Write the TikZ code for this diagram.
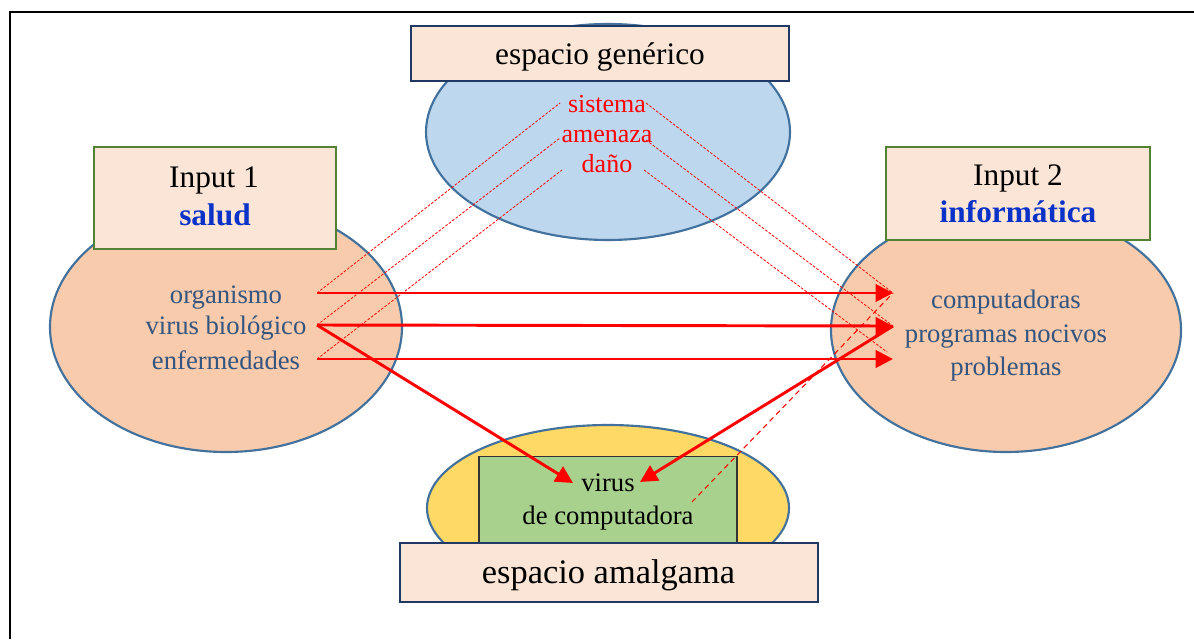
\documentclass[tikz,border=0pt]{standalone}
\usepackage{fontspec}
\setmainfont{Liberation Serif}
\usetikzlibrary{shapes.geometric,arrows.meta}
\definecolor{ellborder}{HTML}{41719C}
\definecolor{navyb}{HTML}{1F3864}
\definecolor{grnb}{HTML}{548235}
\definecolor{boxfill}{HTML}{FBE5D6}
\definecolor{bluefill}{HTML}{BDD7EE}
\definecolor{peach}{HTML}{F8CBAD}
\definecolor{yell}{HTML}{FFD966}
\definecolor{greenfill}{HTML}{A9D18E}
\definecolor{txtblue}{HTML}{34557F}
\definecolor{boldblue}{HTML}{0B32C8}
\begin{document}
\begin{tikzpicture}[x=0.75pt,y=-0.75pt,
  ell/.style={shape=ellipse, draw=ellborder, line width=1.6pt, inner sep=0pt},
  titlebox/.style={draw=navyb, fill=boxfill, line width=1.2pt, inner sep=0pt},
  inbox/.style={draw=grnb, fill=boxfill, line width=1.2pt, inner sep=0pt},
  txt/.style={anchor=base, inner sep=0pt, font=\fontsize{20}{24}\selectfont, text=txtblue},
  redtxt/.style={anchor=base, inner sep=0pt, font=\fontsize{19.5}{24}\selectfont, text=red},
  bigtxt/.style={anchor=base, inner sep=0pt, font=\fontsize{23.5}{28}\selectfont},
  map/.style={draw=red, line width=0.6pt, dash pattern=on 2pt off 1.2pt},
  map2/.style={draw=red, line width=0.8pt, dash pattern=on 4pt off 3pt},
  arr/.style={draw=red, line width=2.2pt, -{Triangle[length=13pt,width=13pt]}}]
\useasboundingbox (0,0) rectangle (1194,639);
\fill[white] (0,0) rectangle (1194,639);
% frame
\draw[line width=2pt] (10,639) -- (10,12) -- (1194,12);
% generic space
\node[ell, fill=bluefill, minimum width=273pt, minimum height=162pt] (gen) at (608,132) {};
\node[titlebox, minimum width=283.5pt, minimum height=41.25pt] (genbox) at (600,53.5) {};
% input 1
\node[ell, fill=peach, minimum width=264pt, minimum height=187.5pt] (in1) at (226,327) {};
\node[inbox, minimum width=181.5pt, minimum height=76.5pt] (in1box) at (215,198) {};
% input 2
\node[ell, fill=peach, minimum width=262.5pt, minimum height=183pt] (in2) at (1006,330) {};
\node[inbox, minimum width=198pt, minimum height=69.75pt] (in2box) at (1018,193.5) {};
% blend
\node[ell, fill=yell, minimum width=271.5pt, minimum height=124.5pt] (bl) at (608,508) {};
\node[draw=black!80, fill=greenfill, line width=1pt, inner sep=0pt, minimum width=193.5pt, minimum height=77.25pt] (blrect) at (608,508) {};
\node[titlebox, minimum width=313.5pt, minimum height=44.25pt] (blbox) at (609,572.5) {};
% coordinates
\coordinate (oL) at (317,293);
\coordinate (vL) at (317,325);
\coordinate (eL) at (317,359);
\coordinate (cR) at (893,293);
\coordinate (pR) at (893,326);
\coordinate (bR) at (893,359);
\coordinate (bRd) at (887,352);
\coordinate (sW) at (560,103);
\coordinate (sE) at (646,103);
\coordinate (aW) at (560,138);
\coordinate (aE) at (646,140);
\coordinate (dW) at (562,170);
\coordinate (dE) at (644,170);
\coordinate (vt) at (573,483);
\coordinate (vt2) at (640,482);
\coordinate (dc) at (692,502);
% dashed mappings
\draw[map] (oL) -- (sW);
\draw[map] (vL) -- (aW);
\draw[map] (eL) -- (dW);
\draw[map] (sE) -- (cR);
\draw[map] (aE) -- (pR);
\draw[map] (dE) -- (bRd);
\draw[map2] (dc) -- (cR);
% arrows
\draw[arr] (oL) -- (cR);
\draw[arr] (vL) -- (pR);
\draw[arr] (eL) -- (bR);
\draw[arr] (vL) -- (vt);
\draw[arr] (pR) -- (vt2);
% texts
\node[bigtxt] (tgen) at (600,64) {espacio genérico};
\node[bigtxt, font=\fontsize{25.8}{30}\selectfont] (tbl) at (608.5,583) {espacio amalgama};
\node[bigtxt] (tin1) at (214,187) {Input 1};
\node[bigtxt, font=\fontsize{23.5}{28}\selectfont\bfseries, text=boldblue] (tsal) at (215,225) {salud};
\node[bigtxt] (tin2) at (1018,185) {Input 2};
\node[bigtxt, font=\fontsize{23.5}{28}\selectfont\bfseries, text=boldblue] (tinf) at (1018,222) {informática};
\node[redtxt] (tsis) at (607,112) {sistema};
\node[redtxt] (tame) at (607,142) {amenaza};
\node[redtxt] (tdan) at (607,172) {daño};
\node[txt] (torg) at (226,303) {organismo};
\node[txt] (tvir) at (226,334) {virus biológico};
\node[txt] (tenf) at (226,369) {enfermedades};
\node[txt] (tcom) at (1006,308) {computadoras};
\node[txt] (tpro) at (1006,342) {programas nocivos};
\node[txt] (tprb) at (1006,375) {problemas};
\node[txt, text=black] (tv1) at (608,491) {virus};
\node[txt, text=black] (tv2) at (608,524) {de computadora};
\end{tikzpicture}
\end{document}
